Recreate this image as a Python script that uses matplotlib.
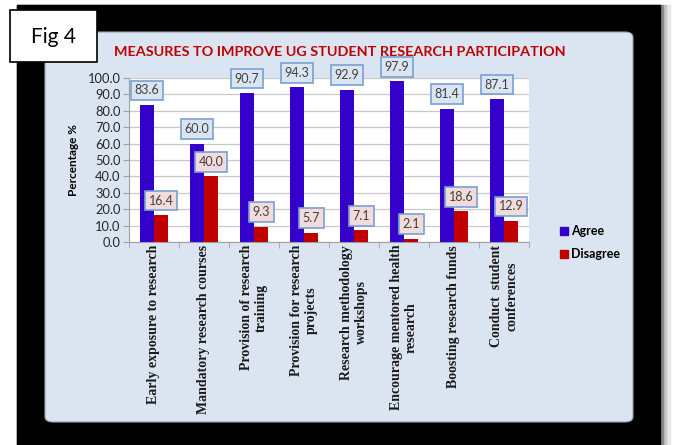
import numpy as np
import matplotlib.pyplot as plt
from matplotlib.patches import Rectangle, FancyBboxPatch
from matplotlib.lines import Line2D

# data
categories = ['Early exposure to research',
              'Mandatory research courses',
              'Provision of research\ntraining',
              'Provision for research\nprojects',
              'Research methodology\nworkshops',
              'Encourage mentored health\nresearch',
              'Boosting research funds',
              'Conduct  student\nconferences']
agree = [83.6, 60.0, 90.7, 94.3, 92.9, 97.9, 81.4, 87.1]
disagree = [16.4, 40.0, 9.3, 5.7, 7.1, 2.1, 18.6, 12.9]
series_names = ['Agree', 'Disagree']
yticks = np.arange(0, 101, 10)

BLUE = '#3300cc'
RED = '#c00000'
SANS = ['Lato', 'DejaVu Sans']
SERIF = ['Liberation Serif', 'DejaVu Serif']

W, H = 678, 445
fig = plt.figure(figsize=(W / 100, H / 100), dpi=100)
fig.patch.set_facecolor('white')


def fx(x):
    return x / W


def fy(y):
    return 1 - y / H


# black frame with a soft shadow on the right
for off, col in [(10, '#e6e6e6'), (6, '#c4c4c4'), (3, '#8a8a8a')]:
    fig.patches.append(Rectangle((fx(17), fy(445)), (643 + off) / W, 440 / H,
                                 transform=fig.transFigure, color=col, zorder=0))
fig.patches.append(Rectangle((fx(17), fy(445)), 643 / W, 440 / H,
                             transform=fig.transFigure, color='black', zorder=0))

# light blue chart panel
fig.patches.append(FancyBboxPatch((fx(45), fy(422)), 588 / W, 390 / H,
                                  boxstyle='round,pad=0,rounding_size=0.012',
                                  transform=fig.transFigure, fc='#dbe5f1',
                                  ec='#9aa4ae', lw=0.8, zorder=1))

# "Fig 4" box
fig.patches.append(Rectangle((fx(10), fy(62)), 87 / W, 52 / H,
                             transform=fig.transFigure, fc='white', ec='black',
                             lw=1.2, zorder=2))
fig.text(fx(53), fy(37), 'Fig 4', fontsize=15, family=SANS, ha='center',
         va='center', zorder=3)

fig.text(fx(340), fy(52), 'MEASURES TO IMPROVE UG STUDENT RESEARCH PARTICIPATION',
         fontsize=10.4, fontweight='bold', color=RED, family=SANS,
         ha='center', va='center', zorder=3)

ax = fig.add_axes([fx(129), fy(242), 400 / W, 164 / H], zorder=3)
ax.set_facecolor('white')

x = np.arange(len(categories))
w = 0.28
b1 = ax.bar(x - w / 2, agree, w, color=BLUE, label=series_names[0], zorder=3)
b2 = ax.bar(x + w / 2, disagree, w, color=RED, label=series_names[1], zorder=3)

for bars, vals, fc in [(b1, agree, '#dbe5f1'), (b2, disagree, '#f2dcdb')]:
    for rect, v in zip(bars, vals):
        ax.annotate('{:.1f}'.format(v),
                    (rect.get_x() + rect.get_width() / 2, rect.get_height()),
                    xytext=(0, 10.5), textcoords='offset points',
                    ha='center', va='center', fontsize=9, color='#404040',
                    family=SANS, zorder=5, annotation_clip=False,
                    bbox=dict(boxstyle='square,pad=0.3', fc=fc, ec='#79a0d4',
                              lw=1.2))

ax.set_xlim(-0.5, len(categories) - 0.5)
ax.set_ylim(0, 100)
ax.set_yticks(yticks)
ax.set_yticklabels(['{:.1f}'.format(t) for t in yticks], fontsize=9.3,
                   family=SANS, color='#262626')
ax.set_xticks(x)
ax.set_xticklabels(categories, rotation=90, va='top', ha='center',
                   multialignment='center', fontsize=10, fontweight='bold',
                   family=SERIF, color='#1a1a1a')
ax.set_xticks(np.arange(-0.5, len(categories)), minor=True)
ax.tick_params(axis='x', which='major', length=0, pad=2)
ax.tick_params(axis='x', which='minor', length=4, color='#a0a0a0')
ax.tick_params(axis='y', length=4, color='#a0a0a0', pad=2)

ax.grid(axis='y', color='#c8c8c8', lw=0.9, zorder=0)
ax.set_axisbelow(True)
for s in ['top', 'right']:
    ax.spines[s].set_visible(False)
for s in ['left', 'bottom']:
    ax.spines[s].set_color('#a0a0a0')

ax.set_ylabel('Percentage %', fontsize=8.5, fontweight='bold', family=SANS,
              labelpad=6)

handles = [Line2D([], [], marker='s', ls='', color=BLUE, markersize=6),
           Line2D([], [], marker='s', ls='', color=RED, markersize=6)]
leg = fig.legend(handles, series_names, loc='upper left',
                 bbox_to_anchor=(fx(549), fy(214)), frameon=False,
                 handlelength=0.6, handletextpad=0.25, labelspacing=0.85,
                 prop={'family': SANS, 'weight': 'bold', 'size': 9})
leg.set_zorder(4)

fig.savefig('out.png', dpi=100)
